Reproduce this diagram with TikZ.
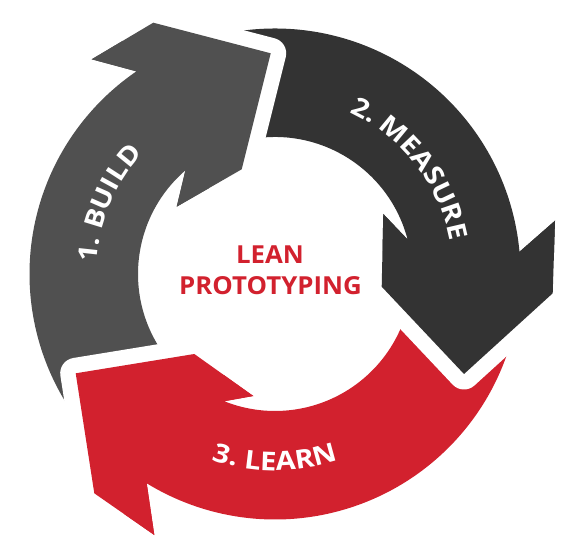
\documentclass[tikz,border=0pt]{standalone}
\usepackage{fontspec}
\setmainfont{Open Sans}
\newfontfamily\lblfont{Open Sans}[FakeStretch=1.12]
\newfontfamily\ctrfont{Open Sans}[FakeStretch=1.04]
\usetikzlibrary{calc,decorations.text}
\definecolor{cbuild}{RGB}{80,80,80}
\definecolor{cmeasure}{RGB}{51,51,51}
\definecolor{clearn}{RGB}{210,33,46}
\tikzset{
  gapline/.style={draw=white, line width=31pt, line join=round, line cap=butt},
  arclabel/.style={decorate, decoration={text along path, text align=center, text color=white,
      text={|\lblfont\bfseries\fontsize{26}{30}\selectfont|#1}}},
  centertext/.style={text=clearn, inner sep=0pt, font=\ctrfont\bfseries\fontsize{24.8}{30}\selectfont}
}
\def\Rout{245.5}
\def\Rin{137}
\begin{document}
\begin{tikzpicture}[x=1pt,y=1pt]
\useasboundingbox (0,0) rectangle (569,551);
\coordinate (C) at (275,277);
% ---- head points ----
% BUILD
\coordinate (bBo) at (91.7,491.7);
\coordinate (bSo) at (153.3,528.3);
\coordinate (bT)  at (270.7,497.7);
\coordinate (bSi) at (241.7,381.7);
\coordinate (bBi) at (176.7,344.3);
\coordinate (bNo) at ($(C)+(124.36:\Rout)$);
\coordinate (bNi) at ($(C)+(130.83:\Rin)$);
% MEASURE
\coordinate (mBo) at (555,330.3);
\coordinate (mSo) at (552.7,257.7);
\coordinate (mT)  at (464,177);
\coordinate (mSi) at (381.7,264.3);
\coordinate (mBi) at (383.3,337);
\coordinate (mNo) at ($(C)+(5.19:\Rout)$);
\coordinate (mNi) at ($(C)+(14.59:\Rin)$);
% LEARN
\coordinate (lBo) at (154.3,16);
\coordinate (lSo) at (94.3,57.7);
\coordinate (lT)  at (75.7,177.7);
\coordinate (lSi) at (194.3,197);
\coordinate (lBi) at (253.3,155);
\coordinate (lNo) at ($(C)+(-121.51:\Rout)$);
\coordinate (lNi) at ($(C)+(-111.76:\Rin)$);
% ---- pass 1: whole arrows ----
\fill[cbuild] ($(C)+(220:\Rout)$) arc[start angle=220,end angle=124.36,radius=\Rout]
  -- (bBo) -- (bSo) -- (bT) -- (bSi) -- (bBi) -- (bNi)
  arc[start angle=130.83,end angle=220,radius=\Rin] -- cycle;
\fill[cmeasure] ($(C)+(100:\Rout)$) arc[start angle=100,end angle=5.19,radius=\Rout]
  -- (mBo) -- (mSo) -- (mT) -- (mSi) -- (mBi) -- (mNi)
  arc[start angle=14.59,end angle=100,radius=\Rin] -- cycle;
\fill[clearn] ($(C)+(-14:\Rout)$) arc[start angle=-14,end angle=-121.51,radius=\Rout]
  -- (lBo) -- (lSo) -- (lT) -- (lSi) -- (lBi) -- (lNi)
  arc[start angle=-111.76,end angle=-14,radius=\Rin] -- cycle;
% ---- pass 2: heads with white gap ----
\draw[gapline] ($(bSo)!0.5!(bBo)$) -- (bSo) -- (bT) -- (bSi) -- ($(bSi)!0.5!(bBi)$);
\fill[cbuild] (bNo) -- (bBo) -- (bSo) -- (bT) -- (bSi) -- (bBi) -- (bNi) -- cycle;
\draw[gapline] ($(mSo)!0.5!(mBo)$) -- (mSo) -- (mT) -- (mSi) -- ($(mSi)!0.5!(mBi)$);
\fill[cmeasure] (mNo) -- (mBo) -- (mSo) -- (mT) -- (mSi) -- (mBi) -- (mNi) -- cycle;
\draw[gapline] ($(lSo)!0.5!(lBo)$) -- (lSo) -- (lT) -- (lSi) -- ($(lSi)!0.5!(lBi)$);
\fill[clearn] (lNo) -- (lBo) -- (lSo) -- (lT) -- (lSi) -- (lBi) -- (lNi) -- cycle;
% ---- labels ----
\path[arclabel={1. BUILD}] ($(C)+(217:179)$) arc[start angle=217,end angle=97,radius=179];
\path[arclabel={2. MEASURE}] ($(C)+(98:178)$) arc[start angle=98,end angle=-22,radius=178];
\path[arclabel={3. LEARN}] ($(C)+(-150:196.5)$) arc[start angle=-150,end angle=-30,radius=196.5];
% ---- centre ----
\node[centertext] (lean) at (270,296.5) {LEAN};
\node[centertext] (proto) at (270.5,265) {PROTOTYPING};
\end{tikzpicture}
\end{document}
